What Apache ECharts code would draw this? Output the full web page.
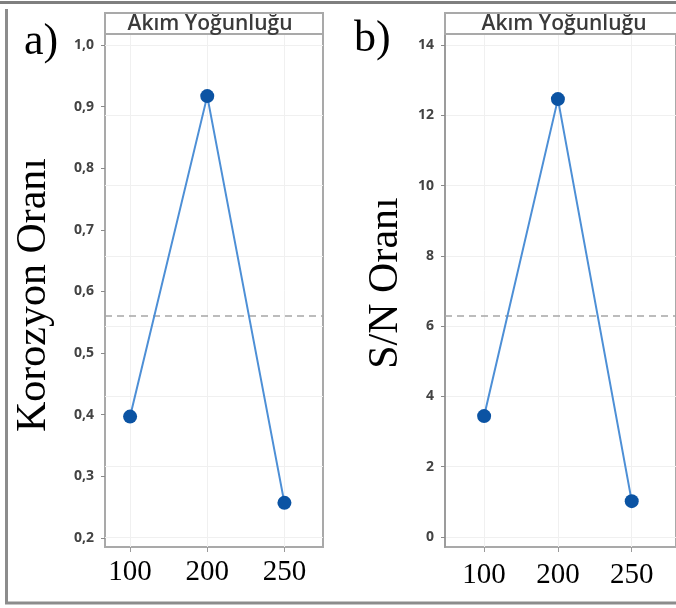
<!DOCTYPE html>
<html>
<head>
<meta charset="utf-8">
<script src="https://cdn.jsdelivr.net/npm/echarts@6/dist/echarts.min.js"></script>
<style>
  html, body { margin: 0; padding: 0; background: #ffffff; }
  #chart { width: 676px; height: 608px; }
</style>
</head>
<body>
<div id="chart"></div>
<script>
// Main-effects plots for current density (Akım Yoğunluğu)
const categories = ['100', '200', '250'];
const corrosionRate = [0.397, 0.917, 0.257];   // a) Korozyon Oranı
const corrosionMean = 0.562;
const snRatio = [3.44, 12.46, 1.02];            // b) S/N Oranı
const snMean = 6.29;
const corrosionTicks = [0.2, 0.3, 0.4, 0.5, 0.6, 0.7, 0.8, 0.9, 1.0];
const snTicks = [0, 2, 4, 6, 8, 10, 12, 14];
const panelTitle = 'Akım Yoğunluğu';
const yTitleA = 'Korozyon Oranı';
const yTitleB = 'S/N Oranı';

const catIdx = categories.map((c, i) => i);
const toPoints = vals => vals.map((v, i) => [i, v]);

const chart = echarts.init(document.getElementById('chart'), null, { renderer: 'canvas' });

const frameColor = '#a9a9a9';
const tickLabelStyle = {
  fontFamily: '"Open Sans", sans-serif',
  fontWeight: 700,
  fontSize: 14,
  color: '#434343'
};
const serif = '"Liberation Serif", "DejaVu Serif", serif';

function xAxisFor(gridIndex, min, max, margin) {
  return {
    type: 'value', gridIndex, min, max,
    axisLine: { show: false, onZero: false },
    axisTick: { show: true, customValues: catIdx, length: 5, lineStyle: { color: '#9a9a9a', width: 1 } },
    axisLabel: {
      customValues: catIdx, margin,
      formatter: v => categories[Math.round(v)],
      fontFamily: serif, fontSize: 29, color: '#000'
    },
    splitLine: { show: true, lineStyle: { color: '#f0f0f0', width: 1 } }
  };
}

function lineSeries(xi, yi, vals, mean) {
  return {
    type: 'line', xAxisIndex: xi, yAxisIndex: yi,
    data: toPoints(vals),
    symbol: 'circle', symbolSize: 14,
    lineStyle: { color: '#4d8fd6', width: 2 },
    itemStyle: { color: '#0b53a3' },
    z: 5,
    markLine: {
      silent: true, symbol: 'none', label: { show: false },
      lineStyle: { color: '#a6a6a6', type: [7, 5], width: 1.5 },
      data: [{ yAxis: mean }]
    }
  };
}

const option = {
  animation: false,
  backgroundColor: '#ffffff',
  grid: [
    { left: 105, right: 676 - 323, top: 34, bottom: 608 - 547, show: true, borderColor: frameColor, borderWidth: 2, backgroundColor: 'transparent' },
    { left: 445, right: -12, top: 34, bottom: 608 - 547, show: true, borderColor: frameColor, borderWidth: 2, backgroundColor: 'transparent' }
  ],
  xAxis: [
    xAxisFor(0, -0.325, 2.5, 11),
    xAxisFor(1, -0.53, 2.6, 14)
  ],
  yAxis: [
    {
      type: 'value', gridIndex: 0, min: 0.1854, max: 1.0178,
      axisLine: { show: false, onZero: false },
      axisTick: { show: true, customValues: corrosionTicks, length: 4, lineStyle: { color: '#8a8a8a' } },
      axisLabel: Object.assign({ customValues: corrosionTicks, margin: 11, formatter: v => v.toFixed(1).replace('.', ',') }, tickLabelStyle),
      splitLine: { show: false }
    },
    {
      // faint horizontal guide lines behind panel a)
      type: 'value', gridIndex: 0, min: -0.285, max: 14.313,
      axisLine: { show: false, onZero: false }, axisLabel: { show: false },
      axisTick: { show: false, customValues: snTicks },
      splitLine: { show: true, lineStyle: { color: '#f0f0f0', width: 1 } }
    },
    {
      type: 'value', gridIndex: 1, min: -0.285, max: 14.313,
      axisLine: { show: true, onZero: false, lineStyle: { color: '#9c9c9c', width: 2 } },
      axisTick: { show: true, customValues: snTicks, length: 4, lineStyle: { color: '#8a8a8a' } },
      axisLabel: Object.assign({ customValues: snTicks, margin: 11 }, tickLabelStyle),
      splitLine: { show: true, lineStyle: { color: '#f0f0f0', width: 1 } }
    }
  ],
  series: [
    lineSeries(0, 0, corrosionRate, corrosionMean),
    lineSeries(1, 2, snRatio, snMean)
  ],
  graphic: [
    // panel header strips
    { type: 'rect', shape: { x: 105, y: 13, width: 218, height: 21 }, style: { fill: '#ffffff', stroke: frameColor, lineWidth: 2 }, z: 10 },
    { type: 'rect', shape: { x: 445, y: 13, width: 250, height: 21 }, style: { fill: '#ffffff', stroke: frameColor, lineWidth: 2 }, z: 10 },
    { type: 'text', x: 210, y: 24, style: { text: panelTitle, font: '600 21px "Open Sans", sans-serif', fill: '#3a3a3a', align: 'center', verticalAlign: 'middle' }, z: 11 },
    { type: 'text', x: 564, y: 24, style: { text: panelTitle, font: '600 21px "Open Sans", sans-serif', fill: '#3a3a3a', align: 'center', verticalAlign: 'middle' }, z: 11 },
    // vertical axis titles
    { type: 'text', x: 34, y: 295, rotation: Math.PI / 2, style: { text: yTitleA, font: '42px ' + serif, fill: '#000', align: 'center', verticalAlign: 'middle' }, z: 11 },
    { type: 'text', x: 386, y: 283, rotation: Math.PI / 2, style: { text: yTitleB, font: '42px ' + serif, fill: '#000', align: 'center', verticalAlign: 'middle' }, z: 11 },
    // panel letters
    { type: 'text', x: 24, y: 42, style: { text: 'a)', font: '44px ' + serif, fill: '#000', verticalAlign: 'middle' }, z: 11 },
    { type: 'text', x: 354, y: 39, style: { text: 'b)', font: '44px ' + serif, fill: '#000', verticalAlign: 'middle' }, z: 11 },
    // outer border
    { type: 'line', shape: { x1: 0, y1: 2.5, x2: 676, y2: 2.5 }, style: { stroke: '#7f7f7f', lineWidth: 3 }, z: 12 },
    { type: 'line', shape: { x1: 6.5, y1: 9, x2: 6.5, y2: 604 }, style: { stroke: '#8c8c8c', lineWidth: 3 }, z: 12 },
    { type: 'line', shape: { x1: 5, y1: 603, x2: 676, y2: 603 }, style: { stroke: '#8c8c8c', lineWidth: 3 }, z: 12 }
  ]
};

chart.setOption(option);
</script>
</body>
</html>
